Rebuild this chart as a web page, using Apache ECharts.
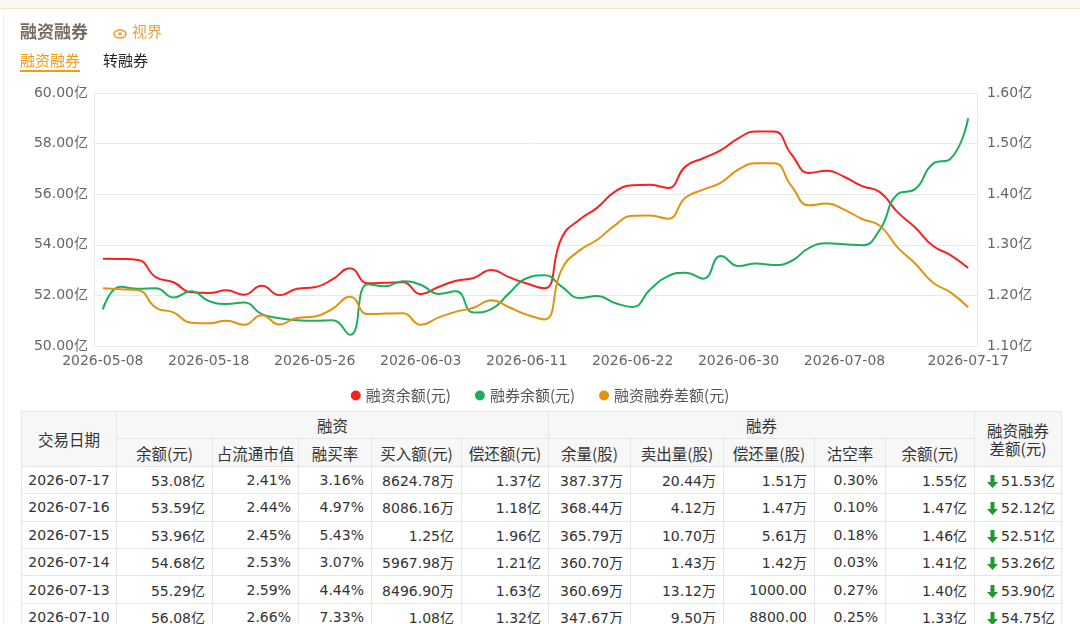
<!DOCTYPE html>
<html>
<head>
<meta charset="utf-8">
<script src="https://cdn.jsdelivr.net/npm/echarts@6/dist/echarts.min.js"></script>
<style>
  html, body { margin: 0; padding: 0; background: #fff; }
  body { width: 1080px; height: 624px; position: relative; overflow: hidden;
         font-family: "DejaVu Sans", "Noto Sans CJK SC", sans-serif; color: #333; }
  .topline { position: absolute; left: 0; top: 0; width: 1080px; height: 8px; background: #fdf8f1; border-bottom: 1px solid #f6e7d3; }
  .leftline { position: absolute; left: 3px; top: 9px; width: 1px; height: 615px; background: #f0f0f0; }
  .title { position: absolute; left: 20px; top: 18px; font-family: "Noto Sans CJK SC"; font-size: 17px; font-weight: bold; color: #7a6a5c; }
  .view { position: absolute; left: 113px; top: 20px; font-family: "Noto Sans CJK SC"; font-size: 15px; color: #e9a23b; }
  .view svg { vertical-align: -2px; margin-right: 5px; }
  .tab { position: absolute; top: 50px; font-family: "Noto Sans CJK SC"; font-size: 15px; }
  .tab.on { left: 20px; color: #f39c12; border-bottom: 2px solid #f39c12; padding-bottom: 0; line-height: 20px; }
  .tab.off { left: 103px; color: #222; line-height: 20px; }
  #chart { position: absolute; left: 0; top: 0; width: 1080px; height: 410px; }
  table { position: absolute; left: 21px; top: 411px; width: 1040px; border-collapse: collapse; table-layout: fixed; font-size: 14px; }
  td, th { border: 1px solid #e6e6e6; height: 26.4px; padding: 0 7px; white-space: nowrap; font-weight: normal; overflow: visible; }
  th { background: #f7f7f7; text-align: center; font-family: "Noto Sans CJK SC", "DejaVu Sans"; font-size: 15.5px; color: #333; line-height: 18px; padding: 0 1px; }
  td { text-align: right; color: #333; }
  td.d { text-align: center; padding: 0; }
  td.sp { padding-right: 6px; }
  td.sp svg { vertical-align: -2px; margin-right: 3px; }
</style>
</head>
<body>
<div class="topline"></div>
<div class="leftline"></div>
<div id="chart"></div>
<div class="title">融资融券</div>
<div class="view"><svg width="14" height="10" viewBox="0 0 14 10"><ellipse cx="7" cy="5" rx="6" ry="4" fill="none" stroke="#e9a23b" stroke-width="1.6"/><circle cx="7" cy="5" r="1.8" fill="#e9a23b"/></svg>视界</div>
<div class="tab on">融资融券</div>
<div class="tab off">转融券</div>
<table id="tbl"></table>
<script>
// 交易日
const dates = [
  '2026-05-08', '2026-05-11', '2026-05-12', '2026-05-13', '2026-05-14', '2026-05-15',
  '2026-05-18', '2026-05-19', '2026-05-20', '2026-05-21', '2026-05-22', '2026-05-25',
  '2026-05-26', '2026-05-27', '2026-05-28', '2026-05-29', '2026-06-01', '2026-06-02',
  '2026-06-03', '2026-06-04', '2026-06-05', '2026-06-08', '2026-06-09', '2026-06-10',
  '2026-06-11', '2026-06-12', '2026-06-15', '2026-06-16', '2026-06-17', '2026-06-18',
  '2026-06-22', '2026-06-23', '2026-06-24', '2026-06-25', '2026-06-26', '2026-06-29',
  '2026-06-30', '2026-07-01', '2026-07-02', '2026-07-03', '2026-07-06', '2026-07-07',
  '2026-07-08', '2026-07-09', '2026-07-10', '2026-07-13', '2026-07-14', '2026-07-15',
  '2026-07-16', '2026-07-17',
]

// 融资余额(亿)
const marginBalance = [
  53.45, 53.44, 53.40, 52.72, 52.52, 52.12, 52.09, 52.20, 52.03, 52.38,
  52.01, 52.26, 52.32, 52.63, 53.07, 52.48, 52.50, 52.52, 52.05, 52.33,
  52.58, 52.69, 53.00, 52.72, 52.47, 52.28, 54.30, 55.00, 55.47, 56.10,
  56.35, 56.37, 56.25, 57.10, 57.42, 57.74, 58.22, 58.48, 58.48, 57.57,
  56.84, 56.93, 56.68, 56.32, 56.08, 55.29, 54.68, 53.96, 53.59, 53.08,
]

// 融券余额(亿) 右轴
const shortBalance = [
  1.172, 1.217, 1.213, 1.214, 1.196, 1.208, 1.189, 1.183, 1.186, 1.163,
  1.155, 1.151, 1.150, 1.151, 1.122, 1.222, 1.218, 1.228, 1.221, 1.203,
  1.208, 1.166, 1.173, 1.204, 1.234, 1.240, 1.217, 1.195, 1.199, 1.185,
  1.177, 1.212, 1.238, 1.245, 1.233, 1.278, 1.258, 1.263, 1.260, 1.268,
  1.294, 1.303, 1.301, 1.299, 1.33, 1.40, 1.41, 1.46, 1.47, 1.55,
]

// 融资融券差额(亿)
const spreadBalance = [
  52.28, 52.24, 52.20, 51.52, 51.33, 50.92, 50.90, 51.00, 50.84, 51.22,
  50.85, 51.11, 51.17, 51.47, 51.95, 51.26, 51.28, 51.29, 50.84, 51.12,
  51.36, 51.51, 51.81, 51.53, 51.24, 51.05, 53.05, 53.78, 54.20, 54.77,
  55.15, 55.16, 55.03, 55.87, 56.18, 56.46, 56.98, 57.22, 57.22, 56.32,
  55.56, 55.63, 55.38, 55.02, 54.75, 53.90, 53.26, 52.51, 52.12, 51.53,
]

// 表格
const rowDates = ['2026-07-17', '2026-07-16', '2026-07-15', '2026-07-14', '2026-07-13', '2026-07-10']
const finBal = ['53.08亿', '53.59亿', '53.96亿', '54.68亿', '55.29亿', '56.08亿']
const finRatio = ['2.41%', '2.44%', '2.45%', '2.53%', '2.59%', '2.66%']
const finBuyRate = ['3.16%', '4.97%', '5.43%', '3.07%', '4.44%', '7.33%']
const finBuy = ['8624.78万', '8086.16万', '1.25亿', '5967.98万', '8496.90万', '1.08亿']
const finRepay = ['1.37亿', '1.18亿', '1.96亿', '1.21亿', '1.63亿', '1.32亿']
const secVol = ['387.37万', '368.44万', '365.79万', '360.70万', '360.69万', '347.67万']
const secSell = ['20.44万', '4.12万', '10.70万', '1.43万', '13.12万', '9.50万']
const secRepay = ['1.51万', '1.47万', '5.61万', '1.42万', '1000.00', '8800.00']
const shortRate = ['0.30%', '0.10%', '0.18%', '0.03%', '0.27%', '0.25%']
const secBal = ['1.55亿', '1.47亿', '1.46亿', '1.41亿', '1.40亿', '1.33亿']
const spread = ['51.53亿', '52.12亿', '52.51亿', '53.26亿', '53.90亿', '54.75亿']

const colWidths = [95, 96, 86, 73, 90, 87, 82, 93, 91, 71, 89, 87]

const axisText = { color: '#666', fontSize: 14, fontFamily: 'DejaVu Sans, Noto Sans CJK SC' }

let chart = echarts.init(document.getElementById('chart'))
let option = {
  animation: false,
  grid: {
    top: 93,
    left: 94,
    right: 103,
    bottom: 64,
  },
  legend: {
    top: 383,
    left: 'center',
    icon: 'circle',
    itemWidth: 10,
    itemHeight: 10,
    itemGap: 24,
    textStyle: { color: '#555', fontSize: 15, fontFamily: 'Noto Sans CJK SC, DejaVu Sans' },
    data: ['融资余额(元)', '融券余额(元)', '融资融券差额(元)'],
  },
  xAxis: {
    type: 'category',
    data: dates,
    axisLine: { lineStyle: { color: '#eaeaea' } },
    axisTick: { show: false },
    axisLabel: Object.assign({}, axisText, {
      margin: 8,
      interval: idx => idx === dates.length - 1 || (idx % 6 === 0 && idx <= 42),
    }),
  },
  yAxis: [
    {
      type: 'value',
      min: 50,
      max: 60,
      interval: 2,
      axisLine: { show: true, lineStyle: { color: '#eaeaea' } },
      axisTick: { show: false },
      splitLine: { lineStyle: { color: '#eaeaea' } },
      axisLabel: Object.assign({}, axisText, { margin: 6, formatter: v => v.toFixed(2) + '亿' }),
    },
    {
      type: 'value',
      min: 1.1,
      max: 1.6,
      interval: 0.1,
      axisLine: { show: true, lineStyle: { color: '#eaeaea' } },
      axisTick: { show: false },
      splitLine: { show: false },
      axisLabel: Object.assign({}, axisText, { margin: 10, formatter: v => v.toFixed(2) + '亿' }),
    },
  ],
  series: [
    {
      name: '融资余额(元)',
      type: 'line',
      data: marginBalance,
      smooth: true,
      showSymbol: false,
      itemStyle: { color: '#fa2020' },
      lineStyle: { width: 2 },
    },
    {
      name: '融券余额(元)',
      type: 'line',
      yAxisIndex: 1,
      data: shortBalance,
      smooth: true,
      showSymbol: false,
      itemStyle: { color: '#1cae5c' },
      lineStyle: { width: 2 },
    },
    {
      name: '融资融券差额(元)',
      type: 'line',
      data: spreadBalance,
      smooth: true,
      showSymbol: false,
      itemStyle: { color: '#e3920f' },
      lineStyle: { width: 2 },
    },
  ],
}
chart.setOption(option)

// 表格
const arrow = '<svg width="11" height="13" viewBox="0 0 11 13"><path d="M3.5 0h4v7h3.5L5.5 13 0 7h3.5z" fill="#1f9a2e"/></svg>'
let html = '<colgroup>' + colWidths.map(w => '<col style="width:' + w + 'px">').join('') + '</colgroup>'
html += '<tr><th rowspan="2">交易日期</th><th colspan="5">融资</th><th colspan="5">融券</th><th rowspan="2">融资融券<br>差额(元)</th></tr>'
html += '<tr><th>余额(元)</th><th>占流通市值</th><th>融买率</th><th>买入额(元)</th><th>偿还额(元)</th>'
html += '<th>余量(股)</th><th>卖出量(股)</th><th>偿还量(股)</th><th>沽空率</th><th>余额(元)</th></tr>'
rowDates.forEach((d, i) => {
  html += '<tr><td class="d">' + d + '</td>'
  html += [finBal, finRatio, finBuyRate, finBuy, finRepay, secVol, secSell, secRepay, shortRate, secBal]
    .map(col => '<td>' + col[i] + '</td>').join('')
  html += '<td class="sp">' + arrow + spread[i] + '</td></tr>'
})
document.getElementById('tbl').innerHTML = html
</script>
</body>
</html>
